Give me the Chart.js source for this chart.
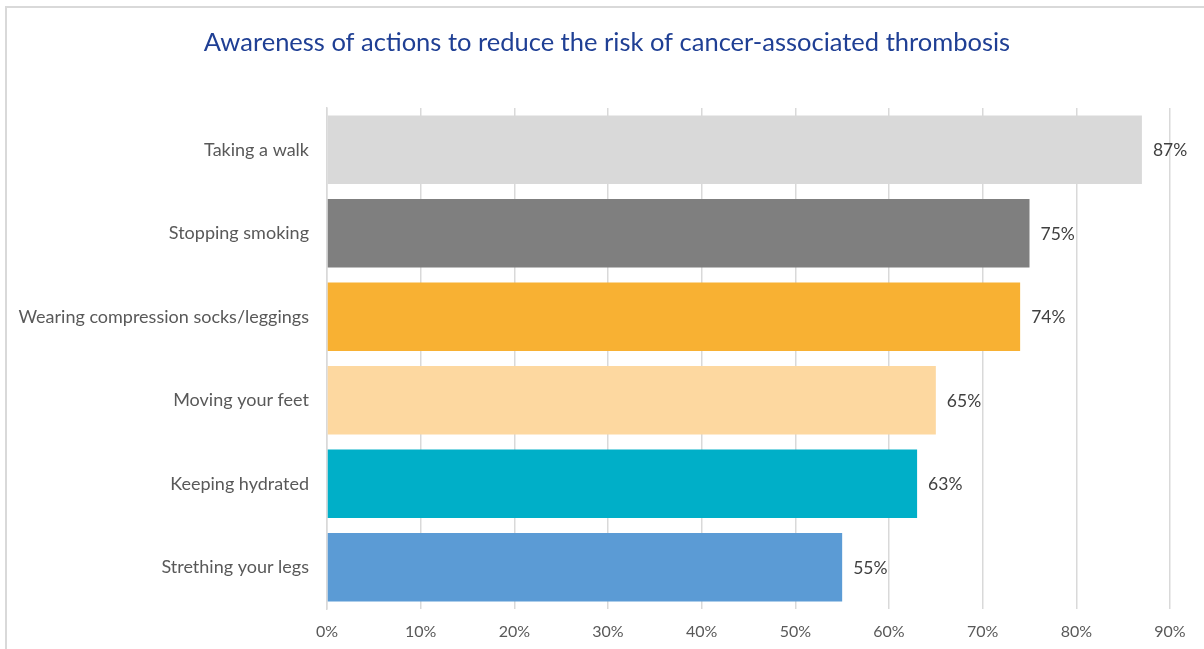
<!DOCTYPE html>
<html>
<head>
<meta charset="utf-8">
<script src="https://cdn.jsdelivr.net/npm/chart.js@4"></script>
<style>
    body { margin: 0; background: #fff; }
    #frame { position: absolute; left: 5px; top: 6px; right: 0; bottom: 0; border-left: 2px solid #d9d9d9; border-top: 2px solid #d9d9d9; }
    #wrap { position: absolute; left: 0; top: 0; width: 1204px; height: 649px; }
</style>
</head>
<body>
<div id="frame"></div>
<div id="wrap"><canvas id="chart"></canvas></div>
<script>
const chartTitle = 'Awareness of actions to reduce the risk of cancer-associated thrombosis';
const categories = ['Taking a walk', 'Stopping smoking', 'Wearing compression socks/leggings', 'Moving your feet', 'Keeping hydrated', 'Strething your legs'];
const values = [87, 75, 74, 65, 63, 55];
const barColors = ['#d9d9d9', '#7f7f7f', '#f8b133', '#fdd8a0', '#00afc8', '#5b9bd5'];
const tickLabels = ['0%', '10%', '20%', '30%', '40%', '50%', '60%', '70%', '80%', '90%'];
const fontFamily = 'Lato, "Open Sans", sans-serif';

// value labels right of the bars + title centred over the whole frame
const extras = {
    id: 'extras',
    afterDatasetsDraw(chart) {
        const ctx = chart.ctx;
        const meta = chart.getDatasetMeta(0);
        ctx.save();
        ctx.font = '17.5px ' + fontFamily;
        ctx.fillStyle = '#404040';
        ctx.textAlign = 'left';
        ctx.textBaseline = 'middle';
        meta.data.forEach((bar, i) => {
            ctx.fillText(values[i] + '%', bar.x + 11, bar.y + 1);
        });
        ctx.font = '25.5px ' + fontFamily;
        ctx.fillStyle = '#1f3f94';
        ctx.textAlign = 'center';
        ctx.fillText(chartTitle, 607, 43);
        ctx.restore();
    }
};

new Chart(document.getElementById('chart'), {
    type: 'bar',
    data: {
        labels: categories,
        datasets: [{ data: values, backgroundColor: barColors, borderWidth: 0, categoryPercentage: 1, barPercentage: 0.82 }]
    },
    options: {
        indexAxis: 'y',
        responsive: true,
        maintainAspectRatio: false,
        animation: false,
        layout: { padding: { left: 0, right: 34, top: 108, bottom: 0 } },
        plugins: {
            legend: { display: false },
            tooltip: { enabled: false },
            title: { display: false }
        },
        scales: {
            x: {
                min: 0,
                max: 90,
                ticks: {
                    stepSize: 10,
                    color: '#595959',
                    font: { family: fontFamily, size: 16 },
                    padding: 13,
                    callback: (v, i) => tickLabels[i]
                },
                grid: { color: '#d9d9d9', lineWidth: 1.5, drawTicks: false },
                border: { display: false },
                afterFit: (scale) => { scale.height = 40; }
            },
            y: {
                ticks: {
                    color: '#595959',
                    font: { family: fontFamily, size: 18 },
                    padding: 18
                },
                grid: { display: false, drawTicks: false },
                border: { display: true, color: '#d9d9d9', width: 1.5 },
                afterFit: (scale) => { scale.width = 327; }
            }
        }
    },
    plugins: [extras]
});
</script>
</body>
</html>
